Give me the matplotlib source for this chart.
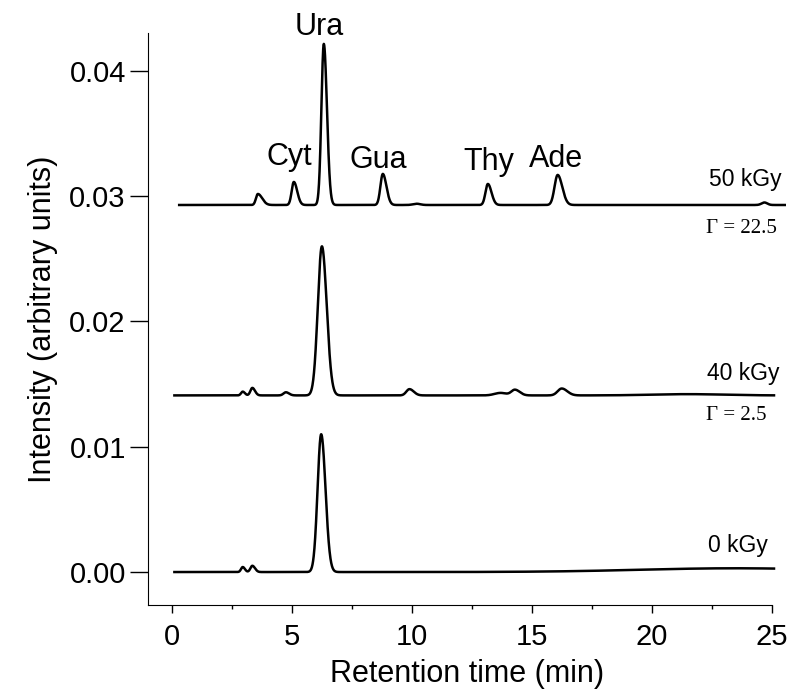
import numpy as np
import matplotlib.pyplot as plt
from matplotlib.ticker import MultipleLocator, FormatStrFormatter

plt.rcParams['font.family'] = ['Liberation Sans', 'DejaVu Sans']

# three chromatograms (bottom to top)
doses = ['0 kGy', '40 kGy', '50 kGy']
gammas = ['', 'Γ = 2.5', 'Γ = 22.5']
baselines = [0.0, 0.0141, 0.0293]
t_start = [0.1, 0.1, 0.3]
t_end = [25.1, 25.1, 25.55]

# peaks: retention time (min), height, width (min), tail (min)
peaks_0 = [(2.95, 0.0004, 0.07, 0.02), (3.35, 0.0005, 0.08, 0.03),
           (6.22, 0.0110, 0.15, 0.03), (23.5, 0.0003, 4.0, 0.0)]
peaks_40 = [(2.95, 0.0003, 0.07, 0.02), (3.35, 0.0006, 0.08, 0.03),
            (4.75, 0.00025, 0.10, 0.03), (6.25, 0.0119, 0.17, 0.03),
            (9.9, 0.0005, 0.13, 0.05), (13.7, 0.0002, 0.25, 0.0),
            (14.3, 0.00045, 0.15, 0.05), (16.25, 0.00055, 0.17, 0.06),
            (21.5, 0.0001, 1.5, 0.0)]
peaks_50 = [(3.58, 0.00088, 0.08, 0.10), (5.08, 0.00184, 0.09, 0.05),
            (6.33, 0.01286, 0.10, 0.03), (8.79, 0.00248, 0.10, 0.05),
            (10.2, 0.0001, 0.15, 0.0), (13.17, 0.00168, 0.10, 0.05),
            (16.08, 0.0024, 0.13, 0.06), (24.7, 0.0002, 0.12, 0.0)]
peak_sets = [peaks_0, peaks_40, peaks_50]

# peak names above the 50 kGy trace: name, time, intensity
bases = ['Cyt', 'Ura', 'Gua', 'Thy', 'Ade']
base_x = [4.88, 6.12, 8.62, 13.2, 16.0]
base_y = [0.0325, 0.04287, 0.03226, 0.0321, 0.03234]


def trace(t, base, peaks):
    y = np.full_like(t, base)
    for c, h, w, tail in peaks:
        s = np.where(t < c, w, w + tail)
        y += h * np.exp(-0.5 * ((t - c) / s) ** 2)
    return y


fig = plt.figure(figsize=(8, 6.99), dpi=100)
ax = fig.add_axes([0.185, 0.1345, 0.7975, 0.8183])

for i in range(3):
    t = np.linspace(t_start[i], t_end[i], 4000)
    ax.plot(t, trace(t, baselines[i], peak_sets[i]), color='black', lw=1.8)

for name, x, y in zip(bases, base_x, base_y):
    ax.text(x, y, name, fontsize=22, ha='center', va='baseline')

ax.text(25.42, 0.03082, doses[2], fontsize=16.5, ha='right', va='baseline')
ax.text(25.2, 0.02707, gammas[2], fontsize=15, ha='right', va='baseline',
        family='Liberation Serif')
ax.text(25.33, 0.01533, doses[1], fontsize=16.5, ha='right', va='baseline')
ax.text(24.79, 0.01214, gammas[1], fontsize=15, ha='right', va='baseline',
        family='Liberation Serif')
ax.text(24.83, 0.0016, doses[0], fontsize=16.5, ha='right', va='baseline')

ax.set_xlim(-1.0, 25.6)
ax.set_ylim(-0.00263, 0.04303)
ax.spines['top'].set_visible(False)
ax.spines['right'].set_visible(False)
ax.spines['bottom'].set_bounds(-1.0, 25)

ax.set_xticks([0, 5, 10, 15, 20, 25])
ax.xaxis.set_minor_locator(MultipleLocator(2.5))
ax.set_yticks([0.0, 0.01, 0.02, 0.03, 0.04])
ax.yaxis.set_major_formatter(FormatStrFormatter('%.2f'))
ax.tick_params(axis='x', which='major', length=6, width=1, pad=7, labelsize=21)
ax.tick_params(axis='x', which='minor', length=3, width=1)
ax.tick_params(axis='y', which='major', length=13, width=1, pad=3, labelsize=21)

ax.set_xlabel('Retention time (min)', fontsize=22, labelpad=6)
ax.set_ylabel('Intensity (arbitrary units)', fontsize=22, labelpad=8)

fig.savefig('out.png', dpi=100)
